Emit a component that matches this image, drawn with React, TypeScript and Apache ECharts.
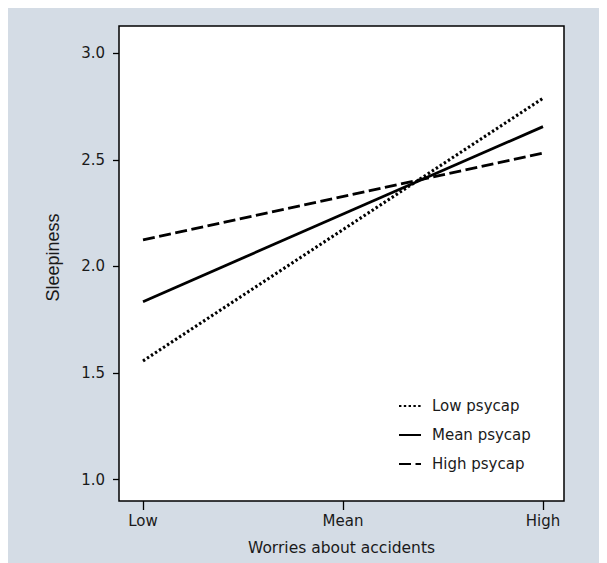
import React, { useEffect, useRef } from "react";
import * as echarts from "echarts";

const xCategories = ["Low", "Mean", "High"];
const xPositions = [0, 1, 2];
const yTicks = [1.0, 1.5, 2.0, 2.5, 3.0];
const seriesNames = ["Low psycap", "Mean psycap", "High psycap"];
const lowPsycap = [1.557, 2.789];
const meanPsycap = [1.835, 2.656];
const highPsycap = [2.125, 2.532];

export default function App() {
  const ref = useRef<HTMLDivElement>(null);
  useEffect(() => {
    if (!ref.current) return;
    const chart = echarts.init(ref.current, null, { renderer: "svg" });
    const font = "DejaVu Sans";
    const txt = "#1a1a1a";
    const mk = (vals: number[]) => [
      [xPositions[0], vals[0]],
      [xPositions[2], vals[1]],
    ];
    const styles: any[] = [
      { type: [2.4, 2.4], width: 3.1, cap: "butt" },
      { type: "solid", width: 2.8 },
      { type: [12, 4.5], width: 2.8 },
    ];
    const datas = [lowPsycap, meanPsycap, highPsycap];
    chart.setOption({
      animation: false,
      backgroundColor: "#d4dce5",
      grid: {
        left: 111,
        top: 18,
        width: 445,
        height: 475,
        show: true,
        backgroundColor: "#ffffff",
        borderColor: "#000",
        borderWidth: 1.5,
      },
      legend: {
        orient: "vertical",
        left: 385,
        top: 385,
        itemWidth: 22,
        itemHeight: 14,
        itemGap: 13,
        itemStyle: { opacity: 0 },
        textStyle: { fontFamily: font, fontSize: 15, color: txt, lineHeight: 16, padding: [0, 0, 0, 6] },
        data: seriesNames,
      },
      xAxis: {
        type: "value",
        min: -0.12,
        max: 2.105,
        splitLine: { show: false },
        axisLine: { show: false, onZero: false },
        axisTick: { show: true, length: 9, lineStyle: { color: "#000", width: 1.3 }, customValues: xPositions },
        axisLabel: {
          margin: 12,
          fontFamily: font,
          fontSize: 15,
          color: txt,
          customValues: xPositions,
          formatter: (v: number) => xCategories[Math.round(v)],
        },
        name: "Worries about accidents",
        nameLocation: "middle",
        nameGap: 39,
        nameTextStyle: { fontFamily: font, fontSize: 15.5, color: txt },
      },
      yAxis: {
        type: "value",
        min: 0.9,
        max: 3.128,
        splitLine: { show: false },
        axisLine: { show: false, onZero: false },
        axisTick: { show: true, length: 6, lineStyle: { color: "#000", width: 1.3 }, customValues: yTicks },
        axisLabel: {
          margin: 14,
          fontFamily: font,
          fontSize: 15,
          color: txt,
          customValues: yTicks,
          formatter: (v: number) => v.toFixed(1),
        },
        name: "Sleepiness",
        nameLocation: "middle",
        nameGap: 57,
        nameTextStyle: { fontFamily: "Liberation Sans", fontSize: 18, color: txt, padding: [0, 0, 0, 12] },
      },
      series: seriesNames.map((n, i) => ({
        name: n,
        type: "line",
        data: mk(datas[i]),
        symbol: "none",
        color: "#000",
        lineStyle: { color: "#000", ...styles[i] },
      })),
    });
    return () => chart.dispose();
  }, []);
  return <div ref={ref} style={{ width: 599, height: 555 }} />;
}
